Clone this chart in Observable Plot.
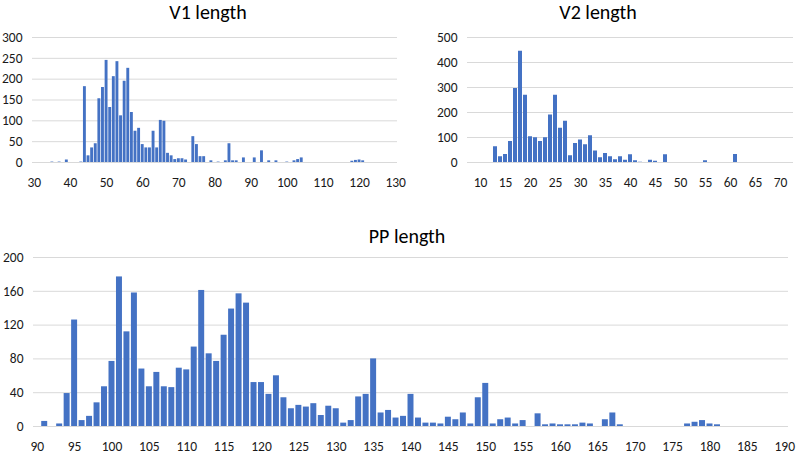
<!DOCTYPE html>
<html><head><meta charset="utf-8">
<script src="https://cdn.jsdelivr.net/npm/d3@7"></script>
<script src="https://cdn.jsdelivr.net/npm/@observablehq/plot@0.6"></script>
<style>
body{margin:0;background:#fff;}
#root{position:relative;width:798px;height:454px;overflow:hidden;font-family:Carlito, Lato, sans-serif;background:#fff;}
.panel{position:absolute;}
.title{position:absolute;font-size:20px;color:#000;transform:translate(-50%,-50%);white-space:nowrap;line-height:1;}
</style></head><body><div id="root"></div>
<script>
// ---- data ----
const v1Lengths = d3.range(30, 131);
const v1Counts = [
  0,0,0,0,0,1,0,1,0,6,          // 30-39
  0,0,0,1,182,16,35,45,153,180, // 40-49
  245,132,206,242,112,195,226,120,75,82, // 50-59
  43,35,35,75,35,101,99,22,16,7, // 60-69
  9,9,6,0,62,43,14,14,0,4,      // 70-79
  0,1,0,4,45,4,4,0,11,0,        // 80-89
  0,11,0,28,0,4,0,4,0,0,        // 90-99
  1,0,4,7,11,0,0,0,0,0,         // 100-109
  0,0,0,0,0,0,0,0,3,5,          // 110-119
  6,4,0,0,0,0,0,0,0,0,          // 120-129
  0                              // 130
];
const v1XTicks = [30,40,50,60,70,80,90,100,110,120,130];
const v1YTicks = [0,50,100,150,200,250,300];

const v2Lengths = d3.range(10, 71);
const v2Counts = [
  0,0,0,63,23,32,84,296,445,269, // 10-19
  103,99,84,99,190,269,137,165,27,76, // 20-29
  90,71,107,46,19,36,23,11,23,9, // 30-39
  31,7,1,0,9,5,0,31,0,0,        // 40-49
  0,0,0,0,0,7,0,0,0,0,          // 50-59
  0,32,0,0,0,0,0,0,0,0,         // 60-69
  0                              // 70
];
const v2XTicks = [10,15,20,25,30,35,40,45,50,55,60,65,70];
const v2YTicks = [0,100,200,300,400,500];

const ppLengths = d3.range(90, 191);
const ppCounts = [
  0,6,0,3,39,126,7,12,28,47,     // 90-99
  77,177,112,158,68,47,64,47,46,69, // 100-109
  67,94,161,86,77,108,139,157,146,52, // 110-119
  52,38,60,34,21,25,23,27,13,24, // 120-129
  21,4,7,35,38,80,16,19,10,12,   // 130-139
  38,10,4,4,3,11,8,16,3,34,      // 140-149
  51,3,8,10,3,7,0,15,2,3,        // 150-159
  2,2,2,4,3,0,8,16,2,0,          // 160-169
  0,0,0,0,0,0,0,3,5,7,           // 170-179
  3,2,0,0,0,0,0,0,0,0,           // 180-189
  0                               // 190
];
const ppXTicks = [90,95,100,105,110,115,120,125,130,135,140,145,150,155,160,165,170,175,180,185,190];
const ppYTicks = [0,40,80,120,160,200];

const titles = ["V1 length", "V2 length", "PP length"];

// ---- drawing ----
const root = document.getElementById("root");
const BAR = "#4472C4", GRID = "#d9d9d9", TXT = "#1a1a1a";

function hist(cfg) {
  const data = cfg.cats.map((c, i) => ({c, n: cfg.counts[i]}));
  const chart = Plot.plot({
    width: cfg.width, height: cfg.height,
    marginLeft: cfg.mL, marginRight: cfg.mR, marginTop: cfg.mT, marginBottom: cfg.mB,
    style: {fontFamily: "Carlito, Lato, sans-serif", fontSize: "13.5px", color: TXT, background: "transparent", overflow: "visible"},
    x: {type: "band", domain: cfg.cats, paddingInner: 0.2, paddingOuter: 0.1},
    y: {domain: [0, cfg.yTicks[cfg.yTicks.length - 1]]},
    marks: [
      Plot.gridY(cfg.yTicks, {stroke: GRID, strokeOpacity: 1, strokeWidth: 1}),
      Plot.barY(data, {x: "c", y: "n", fill: BAR}),
      Plot.axisX({ticks: cfg.xTicks, tickSize: 0, tickPadding: 15, label: null, fill: TXT}),
      Plot.axisY({ticks: cfg.yTicks, tickSize: 0, tickPadding: 10, label: null, fill: TXT})
    ]
  });
  const div = document.createElement("div");
  div.className = "panel";
  div.style.left = cfg.left + "px";
  div.style.top = cfg.top + "px";
  div.appendChild(chart);
  root.appendChild(div);
}

function title(text, cx, cy) {
  const t = document.createElement("div");
  t.className = "title";
  t.textContent = text;
  t.style.left = cx + "px";
  t.style.top = cy + "px";
  root.appendChild(t);
}

hist({cats: v1Lengths, counts: v1Counts, xTicks: v1XTicks, yTicks: v1YTicks,
  left: 0, top: 0, width: 405, height: 200, mL: 32, mR: 8, mT: 37, mB: 38});
hist({cats: v2Lengths, counts: v2Counts, xTicks: v2XTicks, yTicks: v2YTicks,
  left: 405, top: 0, width: 393, height: 200, mL: 62, mR: 5, mT: 37, mB: 38});
hist({cats: ppLengths, counts: ppCounts, xTicks: ppXTicks, yTicks: ppYTicks,
  left: 0, top: 240, width: 798, height: 214, mL: 33, mR: 10, mT: 17, mB: 28});

title(titles[0], 208, 12);
title(titles[1], 598, 12);
title(titles[2], 407, 236);
</script>
</body></html>
